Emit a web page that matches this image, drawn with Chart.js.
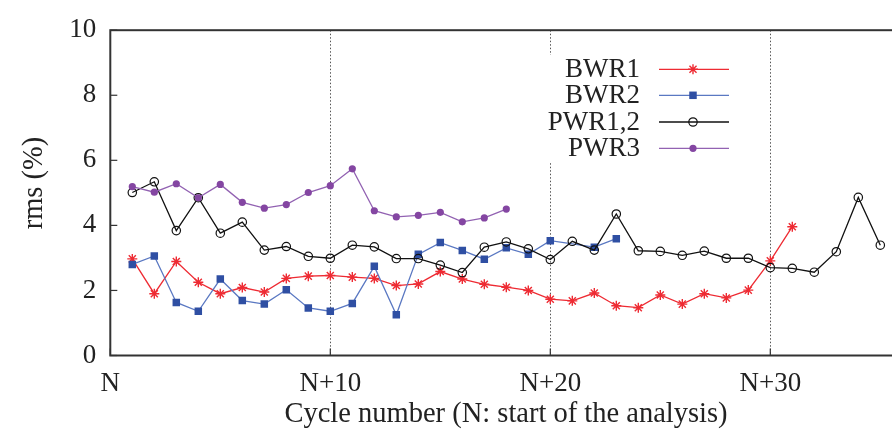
<!DOCTYPE html>
<html>
<head>
<meta charset="utf-8">
<script src="https://cdn.jsdelivr.net/npm/chart.js@4/dist/chart.umd.min.js"></script>
<style>
  html, body { margin: 0; padding: 0; background: #fff; overflow: hidden; }
  #wrap { width: 910px; height: 433px; }
</style>
</head>
<body>
<div id="wrap"><canvas id="c" width="910" height="433"></canvas></div>
<script>
// rms (%) per cycle, counted from N (start of the analysis)
const bwr1Cycles = [1,2,3,4,5,6,7,8,9,10,11,12,13,14,15,16,17,18,19,20,21,22,23,24,25,26,27,28,29,30,31];
const bwr1Rms    = [2.97,1.90,2.89,2.25,1.90,2.09,1.95,2.37,2.44,2.46,2.41,2.37,2.15,2.20,2.58,2.35,2.19,2.10,2.00,1.73,1.68,1.92,1.53,1.47,1.86,1.58,1.90,1.77,2.01,2.91,3.96];

const bwr2Cycles = [1,2,3,4,5,6,7,8,9,10,11,12,13,14,15,16,17,18,19,20,22,23];
const bwr2Rms    = [2.80,3.06,1.63,1.36,2.35,1.69,1.58,2.02,1.46,1.36,1.60,2.74,1.25,3.11,3.47,3.23,2.96,3.31,3.11,3.53,3.33,3.59];

const pwr12Cycles = [1,2,3,4,5,6,7,8,9,10,11,12,13,14,15,16,17,18,19,20,21,22,23,24,25,26,27,28,29,30,31,32,33,34,35];
const pwr12Rms    = [5.01,5.34,3.84,4.85,3.76,4.10,3.24,3.35,3.05,2.99,3.39,3.34,2.98,2.98,2.78,2.55,3.33,3.49,3.28,2.95,3.51,3.24,4.35,3.22,3.20,3.08,3.21,2.99,2.99,2.70,2.68,2.56,3.19,4.86,3.39];

const pwr3Cycles = [1,2,3,4,5,6,7,8,9,10,11,12,13,14,15,16,17,18];
const pwr3Rms    = [5.19,5.02,5.28,4.85,5.26,4.71,4.53,4.64,5.01,5.22,5.74,4.45,4.26,4.31,4.40,4.11,4.23,4.50];

const seriesNames = ['BWR1', 'BWR2', 'PWR1,2', 'PWR3'];
const xTickValues = [0, 10, 20, 30];
const yTickValues = [0, 2, 4, 6, 8, 10];
const xTitle = 'Cycle number (N: start of the analysis)';
const yTitle = 'rms (%)';

const FONT = "'Liberation Serif', 'DejaVu Serif', serif";
const TEXT = '#222';
const TICK_SIZE = 27;
const TITLE_SIZE = 28.5;

function pts(xs, ys) { return xs.map((x, i) => ({ x: x, y: ys[i] })); }

const datasets = [
  { label: seriesNames[0], data: pts(bwr1Cycles, bwr1Rms), order: 4,
    borderColor: '#ee2b33', backgroundColor: '#ee2b33', borderWidth: 1.3,
    pointStyle: 'star', pointRadius: 5, pointBorderWidth: 1.4,
    pointBorderColor: '#ee2b33', pointBackgroundColor: '#ee2b33' },
  { label: seriesNames[1], data: pts(bwr2Cycles, bwr2Rms), order: 3,
    borderColor: '#5a78c2', backgroundColor: '#2f4fa3', borderWidth: 1.3,
    pointStyle: 'rect', pointRadius: 5.3, pointBorderWidth: 0,
    pointBorderColor: '#2f4fa3', pointBackgroundColor: '#2f4fa3' },
  { label: seriesNames[2], data: pts(pwr12Cycles, pwr12Rms), order: 2,
    borderColor: '#111', backgroundColor: 'rgba(0,0,0,0)', borderWidth: 1.3,
    pointStyle: 'circle', pointRadius: 4.2, pointBorderWidth: 1.2,
    pointBorderColor: '#111', pointBackgroundColor: 'rgba(0,0,0,0)' },
  { label: seriesNames[3], data: pts(pwr3Cycles, pwr3Rms), order: 1,
    borderColor: '#9262b2', backgroundColor: '#8446a2', borderWidth: 1.3,
    pointStyle: 'circle', pointRadius: 3.6, pointBorderWidth: 0,
    pointBorderColor: '#8446a2', pointBackgroundColor: '#8446a2' }
];

// Key geometry (opaque key in the upper middle of the plot)
const KEY = { textRight: 640, lineX0: 659, lineX1: 729, markX: 693, rows: [69.3, 95.3, 122, 148.3],
              clear: { x0: 540, y0: 55, x1: 748, y1: 163 } };

function drawMarker(ctx, ds, px, py) {
  ctx.save();
  ctx.fillStyle = ds.pointBackgroundColor;
  ctx.strokeStyle = ds.pointBorderColor;
  ctx.lineWidth = ds.pointBorderWidth;
  Chart.helpers.drawPoint(ctx, {
    pointStyle: ds.pointStyle, radius: ds.pointRadius, rotation: 0,
    borderWidth: ds.pointBorderWidth
  }, px, py);
  ctx.restore();
}

const frame = {
  id: 'frame',
  beforeDatasetsDraw(chart) {
    const { ctx, chartArea: a, scales: { x } } = chart;
    ctx.save();
    // dotted vertical grid lines
    ctx.strokeStyle = '#555';
    ctx.lineWidth = 1;
    ctx.setLineDash([1.5, 2]);
    xTickValues.filter(v => v > 0).forEach(v => {
      const px = Math.round(x.getPixelForValue(v)) + 0.5;
      ctx.beginPath(); ctx.moveTo(px, a.top); ctx.lineTo(px, a.bottom); ctx.stroke();
    });
    ctx.setLineDash([]);
    // key background is opaque
    ctx.fillStyle = '#fff';
    ctx.fillRect(KEY.clear.x0, KEY.clear.y0, KEY.clear.x1 - KEY.clear.x0, KEY.clear.y1 - KEY.clear.y0);
    ctx.restore();
  },
  afterDraw(chart) {
    const { ctx, chartArea: a, scales: { x, y } } = chart;
    ctx.save();
    // plot border
    ctx.strokeStyle = '#333';
    ctx.lineWidth = 2;
    ctx.strokeRect(a.left, a.top, a.right - a.left, a.bottom - a.top);
    // inward tick marks
    ctx.lineWidth = 1.2;
    yTickValues.forEach(v => {
      const py = y.getPixelForValue(v);
      ctx.beginPath(); ctx.moveTo(a.left, py); ctx.lineTo(a.left + 7, py); ctx.stroke();
    });
    xTickValues.forEach(v => {
      const px = x.getPixelForValue(v);
      ctx.beginPath(); ctx.moveTo(px, a.bottom); ctx.lineTo(px, a.bottom - 7); ctx.stroke();
    });
    // axis titles
    ctx.fillStyle = TEXT;
    ctx.font = TITLE_SIZE + 'px ' + FONT;
    ctx.textAlign = 'center';
    ctx.textBaseline = 'middle';
    ctx.fillText(xTitle, 506, 415);
    ctx.save();
    ctx.translate(35, 183);
    ctx.rotate(-Math.PI / 2);
    ctx.fillText(yTitle, 0, 0);
    ctx.restore();
    // key
    ctx.font = TICK_SIZE + 'px ' + FONT;
    ctx.textAlign = 'right';
    chart.data.datasets.forEach((ds, i) => {
      const ry = KEY.rows[i];
      ctx.fillStyle = TEXT;
      ctx.fillText(ds.label, KEY.textRight, ry + 1);
      ctx.strokeStyle = ds.borderColor;
      ctx.lineWidth = ds.borderWidth;
      ctx.beginPath(); ctx.moveTo(KEY.lineX0, ry); ctx.lineTo(KEY.lineX1, ry); ctx.stroke();
      drawMarker(ctx, ds, KEY.markX, ry);
    });
    ctx.restore();
  }
};

function build() {
  new Chart(document.getElementById('c'), {
    type: 'line',
    data: { datasets: datasets },
    plugins: [frame],
    options: {
      responsive: false,
      animation: false,
      events: [],
      layout: { padding: { top: 22.2, right: 7.7, left: 0, bottom: 0 } },
      plugins: { legend: { display: false }, tooltip: { enabled: false } },
      elements: { line: { tension: 0 } },
      scales: {
        x: {
          type: 'linear', min: 0, max: 36,
          afterFit(s) { s.height = 77.5; },
          afterBuildTicks(s) { s.ticks = xTickValues.map(v => ({ value: v })); },
          ticks: {
            padding: 12, color: TEXT, font: { family: FONT, size: TICK_SIZE },
            callback: v => (v === 0 ? 'N' : 'N+' + v)
          },
          grid: { display: false, drawTicks: false },
          border: { display: false }
        },
        y: {
          min: 0, max: 10,
          afterFit(s) { s.width = 110.3; },
          afterBuildTicks(s) { s.ticks = yTickValues.map(v => ({ value: v })); },
          ticks: { padding: 14, color: TEXT, font: { family: FONT, size: TICK_SIZE } },
          grid: { display: false, drawTicks: false },
          border: { display: false }
        }
      }
    }
  });
}

Promise.all([
  document.fonts.load("27px 'Liberation Serif'"),
  document.fonts.load("27px 'DejaVu Serif'")
]).catch(() => {}).then(build);
</script>
</body>
</html>
